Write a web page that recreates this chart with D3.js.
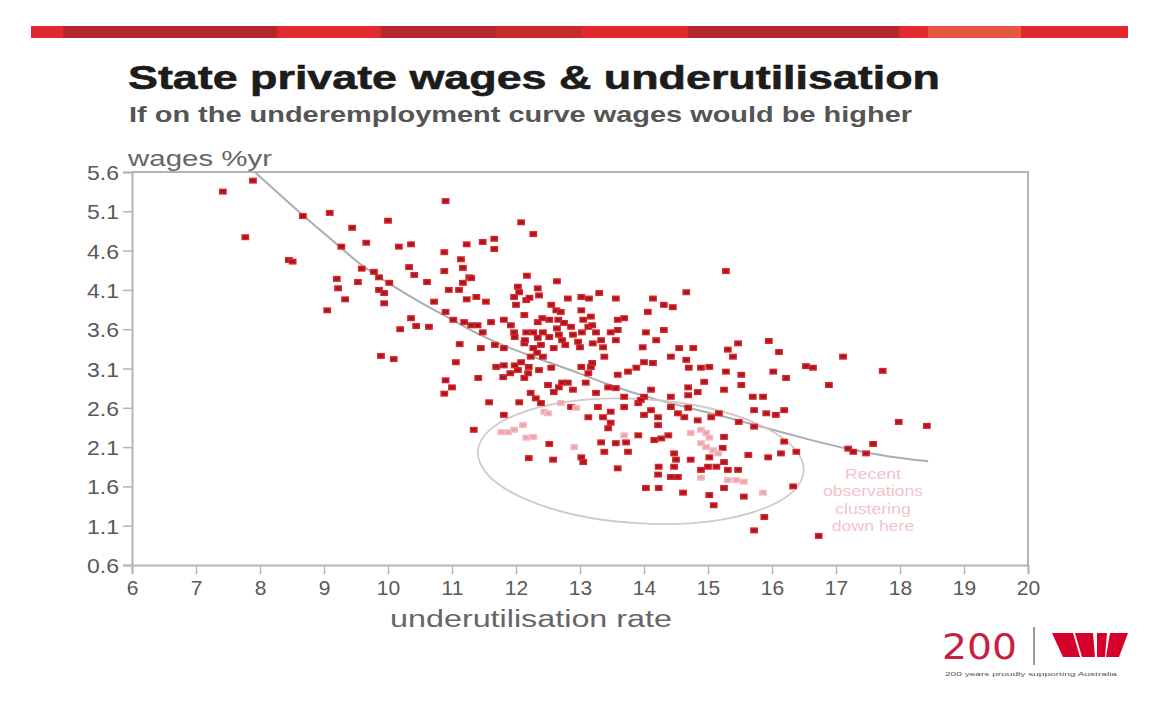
<!DOCTYPE html>
<html>
<head>
<meta charset="utf-8" />
<title>State private wages & underutilisation</title>
<script src="https://cdn.jsdelivr.net/npm/d3@7/dist/d3.min.js"></script>
<style>
  body { margin: 0; background: #fff; }
  svg { display: block; font-family: "Liberation Sans", Arial, sans-serif; }
</style>
</head>
<body>
<script>
// axis ticks
var xTicks = [6, 7, 8, 9, 10, 11, 12, 13, 14, 15, 16, 17, 18, 19, 20];
var yTicks = [0.6, 1.1, 1.6, 2.1, 2.6, 3.1, 3.6, 4.1, 4.6, 5.1, 5.6];

// [underutilisation rate, wages %yr] - older observations
var obsOlder = [
  [7.42,5.35],[7.89,5.49],[7.77,4.77],[8.45,4.48],[8.51,4.46],[8.67,5.04],[9.09,5.08],[9.44,4.89],
  [10.0,4.98],[10.9,5.23],[9.27,4.65],[9.66,4.7],[10.17,4.65],[10.36,4.68],[10.88,4.58],[11.23,4.68],
  [9.59,4.37],[9.78,4.33],[9.86,4.26],[10.02,4.19],[10.33,4.39],[10.41,4.29],[10.61,4.2],[10.88,4.34],
  [11.14,4.49],[11.17,4.38],[11.27,4.26],[11.17,4.19],[10.95,4.1],[11.11,4.1],[11.23,3.98],[9.2,4.24],
  [9.22,4.12],[9.53,4.2],[9.33,3.98],[9.05,3.84],[9.86,4.1],[9.94,4.06],[9.94,3.93],[10.72,3.95],
  [10.9,3.82],[11.02,3.72],[11.19,3.69],[11.3,3.65],[11.4,3.65],[10.36,3.74],[10.44,3.64],[10.64,3.63],
  [10.19,3.6],[11.12,3.41],[9.89,3.26],[10.09,3.22],[11.06,3.18],
  [12.08,4.96],[12.27,4.81],[11.48,4.71],[11.66,4.75],[11.66,4.62],[11.3,4.25],[12.17,4.28],[12.64,4.21],
  [12.03,4.14],[12.05,4.07],[12.34,4.12],[12.36,4.03],[11.97,4.01],[12.81,3.99],[13.02,4.01],[13.14,3.99],
  [13.3,4.06],[13.56,3.99],[14.14,3.99],[14.66,4.07],[14.31,3.91],[14.45,3.88],[14.06,3.82],
  [15.28,4.34],[11.38,4.01],[11.53,3.95],[12.0,3.91],[12.16,3.97],[12.55,3.91],[12.63,3.84],[12.7,3.82],
  [13.02,3.84],[13.17,3.76],[13.59,3.72],[13.69,3.74],[12.13,3.78],[12.34,3.69],[12.52,3.72],[12.66,3.72],
  [12.75,3.68],[12.86,3.63],[11.92,3.65],[11.97,3.56],[11.81,3.72],[11.61,3.69],[11.48,3.56],[12.16,3.56],
  [12.42,3.56],[12.52,3.5],[12.67,3.53],[12.89,3.53],[12.97,3.44],[13.13,3.63],[13.25,3.56],[13.33,3.46],
  [13.48,3.56],[13.56,3.46],[13.36,3.37],[14.03,3.56],[14.19,3.46],[13.98,3.37],[14.31,3.59],[14.55,3.36],
  [14.77,3.36],[14.42,3.25],[11.45,3.36],[11.81,3.36],[12.13,3.42],[12.27,3.36],[12.39,3.4],[12.59,3.36],
  [12.23,3.25],[12.42,3.25],[12.08,3.18],[11.69,3.12],[11.81,3.14],[12.03,3.08],[12.2,3.12],[12.36,3.08],
  [12.55,3.11],[11.41,2.98],[11.8,2.99],[12.13,2.98],[13.02,3.12],[13.17,3.12],[13.13,3.04],[13.38,3.25],
  [13.59,3.02],[13.75,3.06],[13.88,3.11],[14.0,3.18],[14.14,3.17],[14.66,3.21],[14.7,3.11],[14.89,3.11],
  [15.02,3.12],[14.94,2.93],[14.84,2.8],[14.69,2.86],[14.69,2.76],[14.42,2.74],[15.31,3.34],[15.25,2.83],
  [12.5,2.89],[12.67,2.86],[12.81,2.92],[12.59,2.8],[12.89,2.83],[13.09,2.92],[13.25,2.79],[13.44,2.86],
  [13.56,2.85],[13.69,2.74],[14.0,2.74],[14.11,2.83],[12.23,2.79],[12.31,2.72],[11.58,2.67],[12.05,2.67],
  [12.39,2.66],[11.81,2.51],[13.28,2.61],[13.48,2.55],[13.69,2.61],[13.91,2.66],[14.11,2.57],[14.42,2.61],
  [14.53,2.53],[14.63,2.48],[14.84,2.44],[15.05,2.48],[15.17,2.53],[12.86,2.61],[13.13,2.48],[13.36,2.48],
  [13.48,2.41],[14.0,2.51],[14.22,2.48],[14.22,2.38],
  [11.34,2.32],[13.44,2.34],[14.69,2.6],[15.48,2.42],[15.7,2.74],[15.86,2.74],[15.72,2.57],[15.91,2.53],
  [16.06,2.51],[16.19,2.57],[15.72,2.36],[16.19,2.17],[16.38,2.04],[16.14,2.02],[15.94,1.97],[15.63,2.0],
  [16.33,1.6],[15.88,1.21],[15.72,1.04],[12.2,1.96],[12.52,2.14],[12.58,1.94],[13.02,1.97],[13.05,1.91],
  [13.33,2.16],[13.38,2.04],[13.56,2.15],[13.59,1.83],[13.72,2.16],[13.75,2.04],[13.91,2.25],[14.16,2.19],
  [14.27,2.21],[14.38,2.25],[14.47,2.02],[14.5,1.94],[14.23,1.85],[14.47,1.85],[14.22,1.75],[14.42,1.72],
  [14.53,1.72],[14.03,1.58],[14.23,1.58],[14.61,1.52],[14.73,1.94],[14.89,1.81],[15.0,1.85],[15.02,1.97],
  [15.13,1.85],[15.25,1.91],[15.31,1.81],[15.47,1.81],[15.23,2.09],[15.25,2.23],[15.02,1.49],[15.09,1.36],
  [15.25,1.58],[15.56,1.47],[13.95,2.7],
  [15.47,3.42],[15.39,3.25],[15.95,3.45],[16.11,3.31],[15.28,3.06],[15.52,3.02],[15.52,2.89],[16.02,3.06],
  [16.22,2.98],[16.53,3.13],[16.64,3.11],[17.11,3.25],[16.89,2.89],[17.73,3.07],[17.98,2.42],[18.42,2.37],
  [17.19,2.08],[17.27,2.04],[17.47,2.02],[17.58,2.14],[16.73,0.97],[10.9,2.95],[11.0,2.86],[10.88,2.78],
  [12.21,4.0],[12.41,3.74],[13.05,3.72],[13.19,3.65],[12.27,3.56],[12.64,3.61],[13.03,3.56],[13.59,3.59],
  [11.98,3.5],[12.14,3.46],[12.34,3.49],[12.72,3.46],[13.2,3.42],[11.67,3.4],[12.33,3.3],[12.77,3.4],
  [13.0,3.37],[13.19,3.17],[11.98,3.14],[12.19,3.04],[11.91,3.04],[12.72,2.92]
];

// recent observations (pink)
var obsRecent = [
  [11.77,2.29],[11.88,2.29],[11.97,2.32],[12.11,2.38],[12.16,2.22],[12.27,2.23],[12.44,2.55],[12.5,2.53],
  [12.7,2.66],[12.94,2.6],[12.91,2.1],[13.69,2.25],[14.73,2.28],[14.89,2.32],[14.97,2.28],[15.02,2.22],
  [14.89,2.15],[14.97,2.1],[15.08,2.06],[15.16,2.02],[14.89,1.71],[15.31,1.68],[15.44,1.68],[15.56,1.66],
  [15.86,1.52]
];

// underemployment curve
var curvePts = [
  [7.92,5.6],[8.66,5.05],[9.25,4.65],[9.56,4.42],[9.98,4.2],[10.5,3.94],[10.94,3.75],[11.44,3.52],
  [11.86,3.37],[12.4,3.21],[13.0,3.04],[13.47,2.88],[14.2,2.7],[14.8,2.58],[15.34,2.47],[15.83,2.36],
  [16.6,2.19],[17.2,2.07],[17.8,1.98],[18.44,1.92]
];

var noteLines = ["Recent", "observations", "clustering", "down here"];

var width = 1160, height = 704;
var plotL = 132, plotR = 1028, plotT = 172, plotB = 565;

var x = d3.scaleLinear().domain([6, 20]).range([plotL, plotR]);
var y = d3.scaleLinear().domain([0.6, 5.6]).range([plotB, plotT]);

var svg = d3.select("body").append("svg")
    .attr("width", width)
    .attr("height", height);

// top banner
var bands = [
  [31, 63, "#e1282c"], [63, 277, "#b1272b"], [277, 381, "#e3292c"], [381, 496, "#b5282b"],
  [496, 581, "#c52b2d"], [581, 688, "#e2282b"], [688, 899, "#b2272a"], [899, 928, "#e3292c"],
  [928, 1021, "#e8573f"], [1021, 1128, "#e1282c"]
];
svg.selectAll("rect.band")
    .data(bands)
  .enter().append("rect")
    .attr("class", "band")
    .attr("x", function(d){ return d[0]; })
    .attr("y", 26)
    .attr("width", function(d){ return d[1] - d[0]; })
    .attr("height", 12)
    .attr("fill", function(d){ return d[2]; });

// titles
svg.append("text")
    .attr("x", 128).attr("y", 89)
    .attr("font-size", 33).attr("font-weight", "bold").attr("fill", "#1c1c1c")
    .attr("stroke", "#1c1c1c").attr("stroke-width", 0.6)
    .attr("textLength", 812).attr("lengthAdjust", "spacingAndGlyphs")
    .text("State private wages & underutilisation");

svg.append("text")
    .attr("x", 129).attr("y", 122)
    .attr("font-size", 22).attr("font-weight", "bold").attr("fill", "#555")
    .attr("textLength", 783).attr("lengthAdjust", "spacingAndGlyphs")
    .text("If on the underemployment curve wages would be higher");

svg.append("text")
    .attr("x", 128).attr("y", 166)
    .attr("font-size", 22).attr("fill", "#666")
    .attr("textLength", 144).attr("lengthAdjust", "spacingAndGlyphs")
    .text("wages %yr");

// frame
svg.append("path")
    .attr("d", "M" + plotL + "," + plotT + "H" + plotR + "V" + plotB)
    .attr("fill", "none")
    .attr("stroke", "#b4b4b4")
    .attr("stroke-width", 2);

var yAxis = d3.axisLeft(y)
    .tickValues(yTicks)
    .tickSize(9)
    .tickPadding(4)
    .tickFormat(d3.format(".1f"));

var xAxis = d3.axisBottom(x)
    .tickValues(xTicks)
    .tickSize(9)
    .tickPadding(6)
    .tickFormat(d3.format("d"));

var gy = svg.append("g")
    .attr("transform", "translate(" + plotL + ",0)")
    .call(yAxis);

var gx = svg.append("g")
    .attr("transform", "translate(0," + plotB + ")")
    .call(xAxis);

[gx, gy].forEach(function(g){
  g.select(".domain").attr("stroke", "#b4b4b4").attr("stroke-width", 2);
  g.selectAll(".tick line").attr("stroke", "#b4b4b4").attr("stroke-width", 1.5);
  g.selectAll(".tick text")
      .attr("fill", "#595959")
      .attr("font-size", 21)
      .attr("font-family", "Liberation Sans, Arial, sans-serif");
});
gy.selectAll(".tick text").attr("dy", "0.36em")
    .attr("textLength", 32).attr("lengthAdjust", "spacingAndGlyphs");

svg.append("text")
    .attr("x", 390).attr("y", 627)
    .attr("font-size", 23).attr("fill", "#666")
    .attr("textLength", 282).attr("lengthAdjust", "spacingAndGlyphs")
    .text("underutilisation rate");

// underemployment curve
var line = d3.line()
    .curve(d3.curveBasis)
    .x(function(d){ return x(d[0]); })
    .y(function(d){ return y(d[1]); });

svg.append("path")
    .datum(curvePts)
    .attr("d", line)
    .attr("fill", "none")
    .attr("stroke", "#a9aeb3")
    .attr("stroke-width", 2);

// ellipse around recent cluster
var ring = { cx: 13.95, cy: 1.92, rx: 2.55, ry: 0.79, angle: 3.5 };
svg.append("ellipse")
    .attr("cx", x(ring.cx))
    .attr("cy", y(ring.cy))
    .attr("rx", x(6 + ring.rx) - x(6))
    .attr("ry", y(0.6) - y(0.6 + ring.ry))
    .attr("transform", "rotate(" + ring.angle + "," + x(ring.cx) + "," + y(ring.cy) + ")")
    .attr("fill", "none")
    .attr("stroke", "#d6c6c9")
    .attr("stroke-width", 1.8);

// dots
var mw = 6.4, mh = 4.6;
svg.append("g").selectAll("rect")
    .data(obsOlder)
  .enter().append("rect")
    .attr("x", function(d){ return x(d[0]) - mw / 2; })
    .attr("y", function(d){ return y(d[1]) - mh / 2; })
    .attr("width", mw)
    .attr("height", mh)
    .attr("fill", "#a5171e")
    .attr("stroke", "#d9262c")
    .attr("stroke-width", 1.4);

svg.append("g").selectAll("rect")
    .data(obsRecent)
  .enter().append("rect")
    .attr("x", function(d){ return x(d[0]) - mw / 2; })
    .attr("y", function(d){ return y(d[1]) - mh / 2; })
    .attr("width", mw)
    .attr("height", mh)
    .attr("fill", "#efa4ac")
    .attr("stroke", "#f4bcc2")
    .attr("stroke-width", 1.4);

// annotation
svg.append("g")
    .attr("transform", "translate(873,0) scale(1.22,1)")
  .selectAll("text")
    .data(noteLines)
  .enter().append("text")
    .attr("x", 0)
    .attr("y", function(d, i){ return 479 + i * 17.3; })
    .attr("text-anchor", "middle")
    .attr("font-size", 14.5)
    .attr("fill", "#f4c3c8")
    .text(function(d){ return d; });

// logo
var logo = svg.append("g");
logo.append("text")
    .attr("x", 942).attr("y", 659)
    .attr("font-size", 36).attr("fill", "#c8203f")
    .attr("font-family", "DejaVu Sans, sans-serif")
    .attr("textLength", 75).attr("lengthAdjust", "spacingAndGlyphs")
    .text("200");
logo.append("line")
    .attr("x1", 1034).attr("x2", 1034)
    .attr("y1", 627).attr("y2", 665)
    .attr("stroke", "#777").attr("stroke-width", 1.5);
var wParts = [
  [[1052,633],[1073,633],[1080,657],[1063,657]],
  [[1075,633],[1093,633],[1095,657],[1082,657]],
  [[1097,633],[1107,633],[1105,657],[1097,657]],
  [[1110,633],[1128,633],[1119,657],[1106,657]]
];
logo.selectAll("path")
    .data(wParts)
  .enter().append("path")
    .attr("d", function(d){ return "M" + d.join("L") + "Z"; })
    .attr("fill", "#d6002a");
logo.append("text")
    .attr("x", 945).attr("y", 676)
    .attr("font-size", 6).attr("fill", "#555")
    .attr("textLength", 172).attr("lengthAdjust", "spacingAndGlyphs")
    .text("200 years proudly supporting Australia");
</script>
</body>
</html>
